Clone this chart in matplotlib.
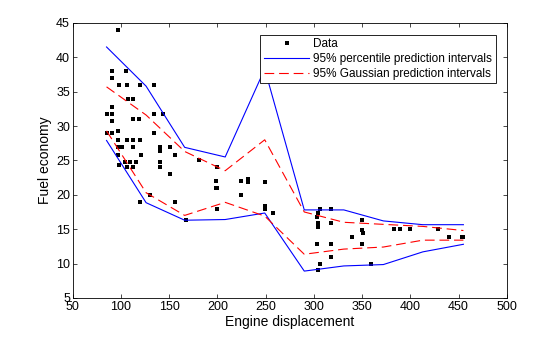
import matplotlib
matplotlib.use("Agg")
import matplotlib.pyplot as plt

plt.rcParams['font.family'] = ['Liberation Sans', 'DejaVu Sans']
plt.rcParams['lines.scale_dashes'] = False

# Scatter data (Engine displacement, Fuel economy)
disp = [97, 91, 91, 105, 98, 106, 120, 134, 107, 112,
        91, 85, 91, 134, 144, 91, 112, 119, 97, 85,
        91, 134, 97, 106, 112, 120, 97, 101, 112, 140,
        140, 151, 97, 121, 156, 104, 109, 116, 140, 98,
        106, 112.5, 140, 151, 130, 120, 156, 167, 181, 200,
        198, 198, 200, 199, 224.5, 224.5, 232, 232, 249, 249,
        249, 258, 306, 318, 304.5, 303, 304, 304, 318, 350,
        350, 351, 340, 383, 389.5, 400, 429, 440, 454, 455,
        303, 318, 350, 318, 306, 304, 359]
mpg = [44, 38, 37, 38, 36, 36, 36, 36, 34, 34,
       32.7, 31.7, 31.7, 31.7, 31.7, 30.8, 31, 31, 29.3, 29,
       29, 29, 28, 28, 28, 28, 27, 27, 27, 27,
       26.4, 27, 25.8, 25.8, 25.8, 24.7, 24.7, 24.7, 24.7, 24.3,
       24, 24, 24, 23, 20, 19, 19, 16.3, 25, 24,
       22, 21, 21, 18, 22, 20, 22.3, 21.8, 21.8, 18.4,
       18, 17.4, 18, 18, 17.4, 16.8, 15.9, 15.3, 15.9, 16.3,
       14.9, 14.4, 13.8, 15, 15, 15, 15, 13.8, 13.8, 13.8,
       12.8, 12.8, 12.8, 11, 10, 9, 10]

# Prediction interval curves
x_grid = [85, 126, 166, 208, 249, 290, 331, 372, 413, 455]
pct_upper = [41.5, 35.8, 26.9, 25.5, 38.3, 17.8, 17.8, 16.2, 15.65, 15.65]
pct_lower = [27.9, 18.85, 16.3, 16.4, 17.35, 8.9, 9.65, 9.85, 11.7, 12.8]
gau_upper = [35.7, 31.6, 26.3, 23.5, 28.0, 17.5, 16.0, 15.7, 15.4, 14.8]
gau_lower = [29.3, 20.3, 17.0, 18.9, 16.9, 11.35, 12.1, 12.4, 13.4, 13.4]

fig = plt.figure(figsize=(5.6, 3.37), dpi=100)
ax = fig.add_axes([0.130, 0.116, 0.775, 0.816])

h_data, = ax.plot(disp, mpg, 's', color='k', markersize=2.4, markeredgewidth=0,
                  linestyle='none', label='Data')
h_pct, = ax.plot(x_grid, pct_upper, '-', color='#0000ff', lw=0.8,
                 label='95% percentile prediction intervals')
ax.plot(x_grid, pct_lower, '-', color='#0000ff', lw=0.8)
h_gau, = ax.plot(x_grid, gau_upper, color='#ff0000', lw=0.8, dashes=(7, 3.5),
                 label='95% Gaussian prediction intervals')
ax.plot(x_grid, gau_lower, color='#ff0000', lw=0.8, dashes=(7, 3.5))

ax.set_xlim(50, 500)
ax.set_ylim(5, 45)
ax.set_xticks(range(50, 501, 50))
ax.set_yticks(range(5, 46, 5))
ax.tick_params(direction='in', top=True, right=True, length=3, width=0.5,
               labelsize=9, pad=2)
for s in ax.spines.values():
    s.set_linewidth(0.6)
ax.set_xlabel('Engine displacement', fontsize=10, labelpad=2)
ax.set_ylabel('Fuel economy', fontsize=10, labelpad=3)

leg = ax.legend(handles=[h_data, h_pct, h_gau], loc='upper right',
                bbox_to_anchor=(0.9747, 0.9564), borderaxespad=0,
                fontsize=8.5, handlelength=3.85, handletextpad=0.35,
                labelspacing=0.22, borderpad=0.3, fancybox=False,
                framealpha=1, edgecolor='k', markerscale=1.0)
leg.set_zorder(5)
leg.get_frame().set_linewidth(0.6)

fig.savefig('out.png', dpi=100)
